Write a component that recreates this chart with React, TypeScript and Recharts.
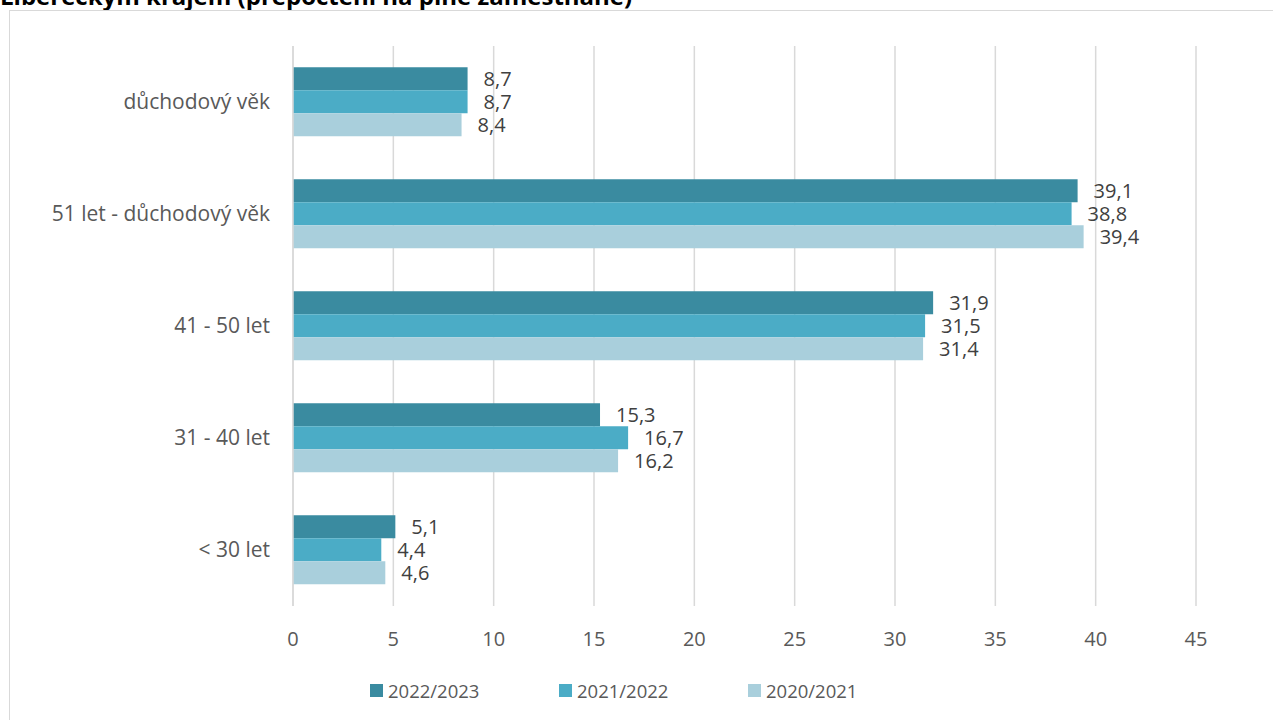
import { BarChart, Bar, XAxis, YAxis, CartesianGrid, Legend, LabelList } from "recharts";

const categories = [
  "důchodový věk",
  "51 let - důchodový věk",
  "41 - 50 let",
  "31 - 40 let",
  "< 30 let",
];

const values2223 = [8.7, 39.1, 31.9, 15.3, 5.1];
const values2122 = [8.7, 38.8, 31.5, 16.7, 4.4];
const values2021 = [8.4, 39.4, 31.4, 16.2, 4.6];

const seriesNames = ["2022/2023", "2021/2022", "2020/2021"];
const xTicks = [0, 5, 10, 15, 20, 25, 30, 35, 40, 45];

const title = "Libereckým krajem (přepočtení na plně zaměstnané)";

const colors = ["#3A8BA0", "#4BACC6", "#A9CFDC"];
const font = "'Open Sans', sans-serif";

const data = categories.map((name, i) => ({
  name,
  s0: values2223[i],
  s1: values2122[i],
  s2: values2021[i],
}));

const fmt = (v: any) => Number(v).toFixed(1).replace(".", ",");

function renderLegend(props: any) {
  const payload = [...(props.payload || [])].sort(
    (a: any, b: any) => seriesNames.indexOf(a.value) - seriesNames.indexOf(b.value)
  );
  return (
    <div style={{ display: "flex", fontFamily: font }}>
      {payload.map((entry: any) => (
        <div
          key={entry.value}
          style={{ width: 189, display: "flex", alignItems: "center", height: 20 }}
        >
          <span
            style={{
              display: "inline-block",
              width: 13,
              height: 13,
              background: entry.color,
              marginRight: 5,
            }}
          />
          <span style={{ fontSize: 18.5, color: "#595959" }}>{entry.value}</span>
        </div>
      ))}
    </div>
  );
}

export default function App() {
  return (
    <div
      style={{
        position: "absolute",
        left: 0,
        top: 0,
        width: 1273,
        height: 720,
        overflow: "hidden",
        background: "#fff",
      }}
    >
      <div
        style={{
          position: "absolute",
          left: 0,
          top: -16,
          fontFamily: font,
          fontWeight: 700,
          fontSize: 24,
          lineHeight: "24px",
          color: "#000",
          whiteSpace: "nowrap",
        }}
      >
        {title}
      </div>
      <div
        style={{
          position: "absolute",
          left: 9,
          top: 10,
          width: 1320,
          height: 760,
          border: "1.5px solid #D9D9D9",
        }}
      />
      <div style={{ position: "absolute", left: 0, top: 0 }}>
        <BarChart
          width={1273}
          height={720}
          data={data}
          layout="vertical"
          margin={{ top: 46, right: 77, left: 0, bottom: 74 }}
          barCategoryGap="19%"
          barGap={0}
        >
          <CartesianGrid horizontal={false} stroke="#D9D9D9" strokeWidth={1.5} />
          <XAxis
            type="number"
            domain={[0, 45]}
            ticks={xTicks}
            axisLine={false}
            tickLine={false}
            tickSize={0}
            tickMargin={26}
            height={40}
            tick={{ fontSize: 20, fill: "#595959", fontFamily: font }}
          />
          <YAxis
            type="category"
            dataKey="name"
            width={293}
            axisLine={{ stroke: "#D9D9D9", strokeWidth: 1.5 }}
            tickLine={false}
            tickSize={0}
            tickMargin={23}
            tick={{ fontSize: 21, fill: "#595959", fontFamily: font }}
          />
          <Legend
            verticalAlign="middle"
            align="center"
            layout="horizontal"
            content={renderLegend}
            wrapperStyle={{ left: 370, top: 680, width: 700 }}
          />
          {["s0", "s1", "s2"].map((key, i) => (
            <Bar
              key={key}
              dataKey={key}
              name={seriesNames[i]}
              fill={colors[i]}
              isAnimationActive={false}
            >
              <LabelList
                dataKey={key}
                position="right"
                offset={16}
                formatter={fmt}
                style={{ fontSize: 20, fill: "#404040", fontFamily: font }}
              />
            </Bar>
          ))}
        </BarChart>
      </div>
    </div>
  );
}
